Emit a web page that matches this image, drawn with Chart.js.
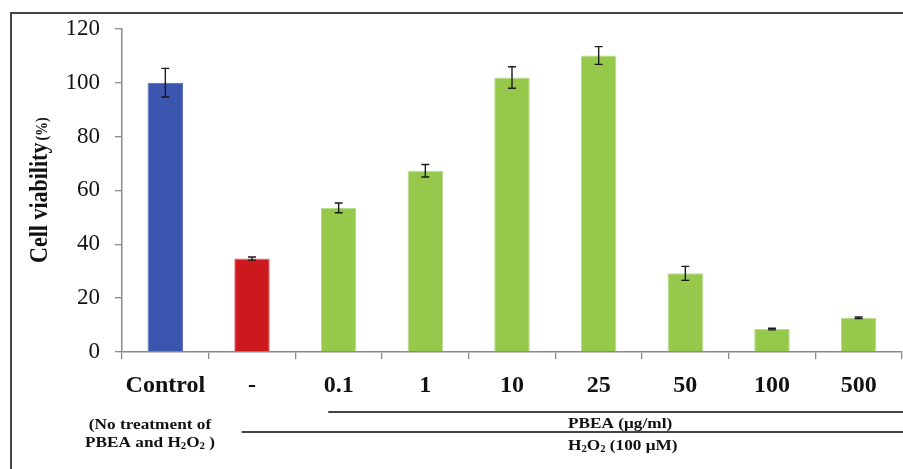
<!DOCTYPE html>
<html>
<head>
<meta charset="utf-8">
<style>
  html, body { margin: 0; padding: 0; background: #fff; }
  #wrap { width: 903px; height: 469px; position: relative; }
  canvas { display: block; }
</style>
<script src="https://cdn.jsdelivr.net/npm/chart.js@4.4.1/dist/chart.umd.min.js"></script>
</head>
<body>
<div id="wrap"><canvas id="chart" width="903" height="469"></canvas></div>
<script>
// Treatment groups along the x axis
const categories = ['Control', '-', '0.1', '1', '10', '25', '50', '100', '500'];
// Mean cell viability (%) and standard deviation per group
const viability = [100.0, 34.7, 53.5, 67.3, 101.9, 110.1, 29.2, 8.5, 12.7];
const errors    = [5.3, 0.6, 1.8, 2.3, 4.0, 3.3, 2.6, 0.3, 0.3];
// Y axis ticks
const yTicks = [0, 20, 40, 60, 80, 100, 120];
// Bar fills: untreated control, H2O2 only, PBEA + H2O2
const barColors = ['#3B56AF', '#CC191D', '#96C84B', '#96C84B', '#96C84B', '#96C84B', '#96C84B', '#96C84B', '#96C84B'];
const barEdges  = ['#5068BA', '#E0787A', '#B9DB8E', '#B9DB8E', '#B9DB8E', '#B9DB8E', '#B9DB8E', '#B9DB8E', '#B9DB8E'];

const SERIF = "'Liberation Serif', 'Times New Roman', serif";
const STRETCH = 1.15;

// Draw a run of text pieces (with optional subscripts) in bold serif
function drawRich(ctx, parts, x, y, size, align) {
  ctx.save();
  const subSize = size * 0.62;
  const widths = parts.map(p => {
    ctx.font = 'bold ' + (p.sub ? subSize : size) + 'px ' + SERIF;
    return ctx.measureText(p.t).width;
  });
  const total = widths.reduce((a, b) => a + b, 0) * STRETCH;
  let cx = align === 'center' ? x - total / 2 : x;
  ctx.fillStyle = '#111';
  ctx.textBaseline = 'alphabetic';
  ctx.textAlign = 'left';
  parts.forEach((p, i) => {
    ctx.font = 'bold ' + (p.sub ? subSize : size) + 'px ' + SERIF;
    ctx.save();
    ctx.translate(cx, y + (p.sub ? size * 0.15 : 0));
    ctx.scale(STRETCH, 1);
    ctx.fillText(p.t, 0, 0);
    ctx.restore();
    cx += widths[i] * STRETCH;
  });
  ctx.restore();
}

// Standard deviation whiskers on each bar
const errorBars = {
  id: 'errorBars',
  afterDatasetsDraw(chart) {
    const ctx = chart.ctx;
    const y = chart.scales.y;
    const meta = chart.getDatasetMeta(0);
    ctx.save();
    ctx.strokeStyle = '#1a1a1a';
    ctx.lineWidth = 1.4;
    meta.data.forEach((bar, i) => {
      const top = y.getPixelForValue(viability[i] + errors[i]);
      const bot = y.getPixelForValue(viability[i] - errors[i]);
      const cap = 4;
      ctx.beginPath();
      ctx.moveTo(bar.x, top); ctx.lineTo(bar.x, bot);
      ctx.moveTo(bar.x - cap, top); ctx.lineTo(bar.x + cap, top);
      ctx.moveTo(bar.x - cap, bot); ctx.lineTo(bar.x + cap, bot);
      ctx.stroke();
    });
    ctx.restore();
  }
};

// Frame, axis title and the treatment group annotations under the axis
const decorations = {
  id: 'decorations',
  afterDraw(chart) {
    const ctx = chart.ctx;
    const xs = chart.scales.x;
    const W = chart.width;
    const cw = xs.getPixelForValue(1) - xs.getPixelForValue(0);

    ctx.save();
    // frame (top and left edges)
    ctx.strokeStyle = '#444';
    ctx.lineWidth = 2;
    ctx.beginPath();
    ctx.moveTo(11, 469); ctx.lineTo(11, 13); ctx.lineTo(W, 13);
    ctx.stroke();

    // y axis title
    ctx.save();
    ctx.translate(47, 263);
    ctx.rotate(-Math.PI / 2);
    ctx.scale(1, STRETCH);
    ctx.fillStyle = '#111';
    ctx.textAlign = 'left';
    ctx.textBaseline = 'alphabetic';
    ctx.font = 'bold 22px ' + SERIF;
    const t1 = 'Cell viability';
    ctx.fillText(t1, 0, 0);
    const w1 = ctx.measureText(t1).width;
    ctx.font = 'bold 14px ' + SERIF;
    ctx.fillText('(%)', w1 + 2, 0);
    ctx.restore();

    // group bracket lines
    ctx.strokeStyle = '#444';
    ctx.lineWidth = 2;
    const pbeaStart = xs.getPixelForValue(2) - 0.12 * cw;
    const h2o2Start = xs.getPixelForValue(1) - 0.12 * cw;
    ctx.beginPath();
    ctx.moveTo(pbeaStart, 412); ctx.lineTo(W, 412);
    ctx.moveTo(h2o2Start, 432); ctx.lineTo(W, 432);
    ctx.stroke();

    // group texts
    const ctrlX = 150;
    drawRich(ctx, [{ t: '(No treatment of' }], ctrlX, 429, 15, 'center');
    drawRich(ctx, [{ t: 'PBEA and H' }, { t: '2', sub: true }, { t: 'O' }, { t: '2', sub: true }, { t: ' )' }], ctrlX, 447, 15, 'center');
    drawRich(ctx, [{ t: 'PBEA (\u03bcg/ml)' }], 568, 428, 15, 'left');
    drawRich(ctx, [{ t: 'H' }, { t: '2', sub: true }, { t: 'O' }, { t: '2', sub: true }, { t: ' (100 \u03bcM)' }], 568, 450, 15, 'left');
    ctx.restore();
  }
};

new Chart(document.getElementById('chart'), {
  type: 'bar',
  data: {
    labels: categories,
    datasets: [{
      data: viability,
      backgroundColor: barColors,
      borderColor: barEdges,
      borderWidth: 1,
      barPercentage: 0.41,
      categoryPercentage: 1.0
    }]
  },
  options: {
    responsive: false,
    animation: false,
    devicePixelRatio: 1,
    layout: { padding: { top: 26, right: 1, left: 0, bottom: 0 } },
    plugins: {
      legend: { display: false },
      tooltip: { enabled: false },
      title: { display: false }
    },
    scales: {
      x: {
        grid: {
          display: true,
          drawOnChartArea: false,
          drawTicks: true,
          tickLength: 7,
          color: '#8a8a8a',
          lineWidth: 1.3,
          offset: true
        },
        border: { display: true, color: '#8a8a8a', width: 1.5 },
        ticks: {
          color: '#111',
          padding: 12,
          maxRotation: 0,
          autoSkip: false,
          font: { family: SERIF, size: 24, weight: 'bold' }
        },
        afterFit(s) { s.height = 117; }
      },
      y: {
        min: 0,
        max: 120,
        afterBuildTicks(s) { s.ticks = yTicks.map(v => ({ value: v })); },
        grid: {
          display: true,
          drawOnChartArea: false,
          drawTicks: true,
          tickLength: 7,
          color: '#8a8a8a',
          lineWidth: 1.3
        },
        border: { display: true, color: '#8a8a8a', width: 1.5 },
        ticks: {
          color: '#111',
          padding: 15,
          font: { family: SERIF, size: 23 }
        },
        afterFit(s) { s.width = 122; }
      }
    }
  },
  plugins: [errorBars, decorations]
});
</script>
</body>
</html>
